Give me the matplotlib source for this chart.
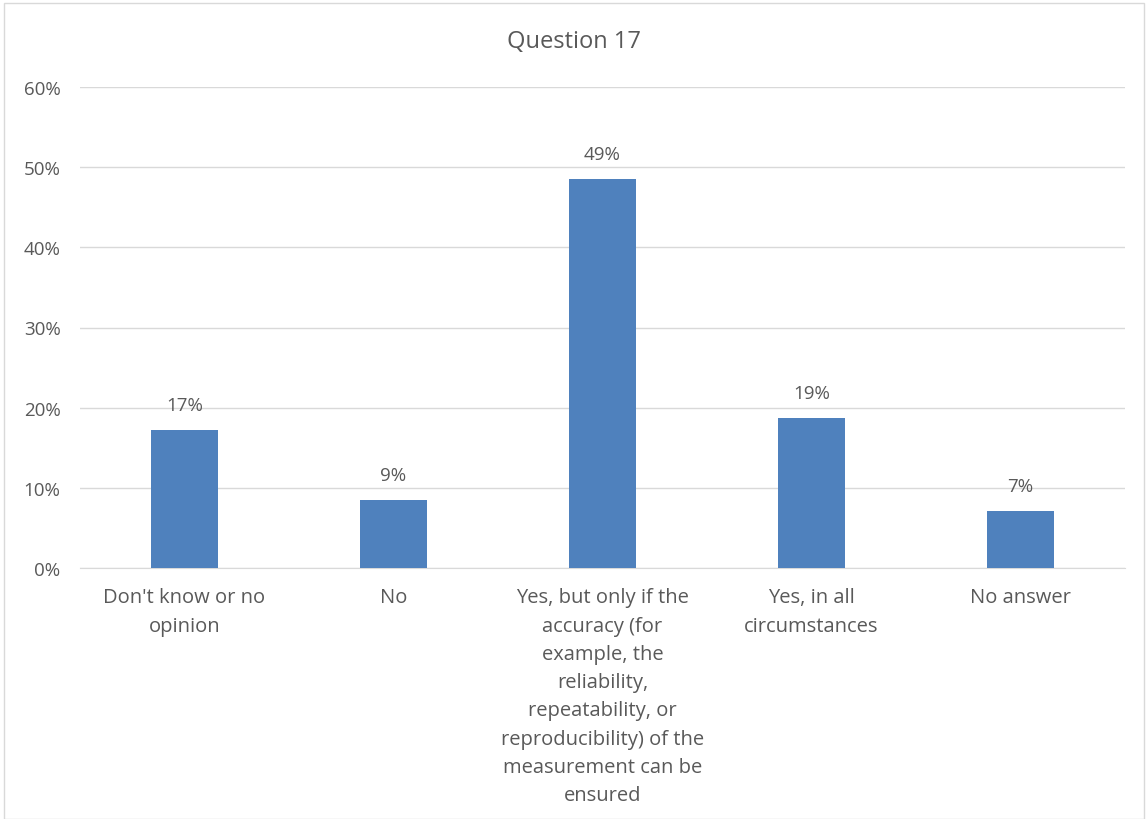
import matplotlib.pyplot as plt
from matplotlib.patches import Rectangle
from matplotlib.ticker import PercentFormatter

# ---------------------------------------------------------------
# dados
# ---------------------------------------------------------------
categories = [
    "Don't know or no\nopinion",
    "No",
    "Yes, but only if the\naccuracy (for\nexample, the\nreliability,\nrepeatability, or\n"
    "reproducibility) of the\nmeasurement can be\nensured",
    "Yes, in all\ncircumstances",
    "No answer",
]
shares = [0.172, 0.085, 0.485, 0.187, 0.071]
share_labels = ["17%", "9%", "49%", "19%", "7%"]
y_ticks = [0.0, 0.1, 0.2, 0.3, 0.4, 0.5, 0.6]

TXT = "#595959"
BAR = "#4F81BD"
GRID = "#D9D9D9"

plt.rcParams["font.family"] = ["Open Sans", "DejaVu Sans"]

fig = plt.figure(figsize=(11.48, 8.2), dpi=100)
ax = fig.add_axes([80 / 1148, 1 - 569 / 820, (1125 - 80) / 1148, (569 - 88) / 820])

x = range(len(categories))
bars = ax.bar(x, shares, width=0.316, color=BAR, zorder=3)

for b, lab in zip(bars, share_labels):
    ax.annotate(lab, (b.get_x() + b.get_width() / 2, b.get_height()),
                xytext=(0, 18), textcoords="offset points",
                ha="center", va="center", fontsize=13.5, color=TXT)

ax.set_xlim(-0.5, len(categories) - 0.5)
ax.set_ylim(0, 0.6)
ax.set_yticks(y_ticks)
ax.yaxis.set_major_formatter(PercentFormatter(1.0, decimals=0))
ax.set_xticks(list(x))
ax.set_xticklabels(categories, fontsize=14.5, color=TXT, linespacing=1.55, va="top")
ax.tick_params(axis="y", length=0, labelsize=13.5, labelcolor=TXT, pad=14)
ax.tick_params(axis="x", length=0, pad=14)

ax.grid(axis="y", color=GRID, linewidth=1, zorder=0)
for side in ("top", "right", "left"):
    ax.spines[side].set_visible(False)
ax.spines["bottom"].set_color(GRID)

fig.text(0.5, 1 - 42 / 820, "Question 17", ha="center", va="center",
         fontsize=17, color=TXT)

# moldura da área do gráfico
fig.patches.append(Rectangle((4 / 1148, 0), 1 - 8 / 1148, 1 - 4 / 820,
                             transform=fig.transFigure, fill=False,
                             edgecolor="#D9D9D9", linewidth=1))

fig.savefig("out.png", dpi=100)
